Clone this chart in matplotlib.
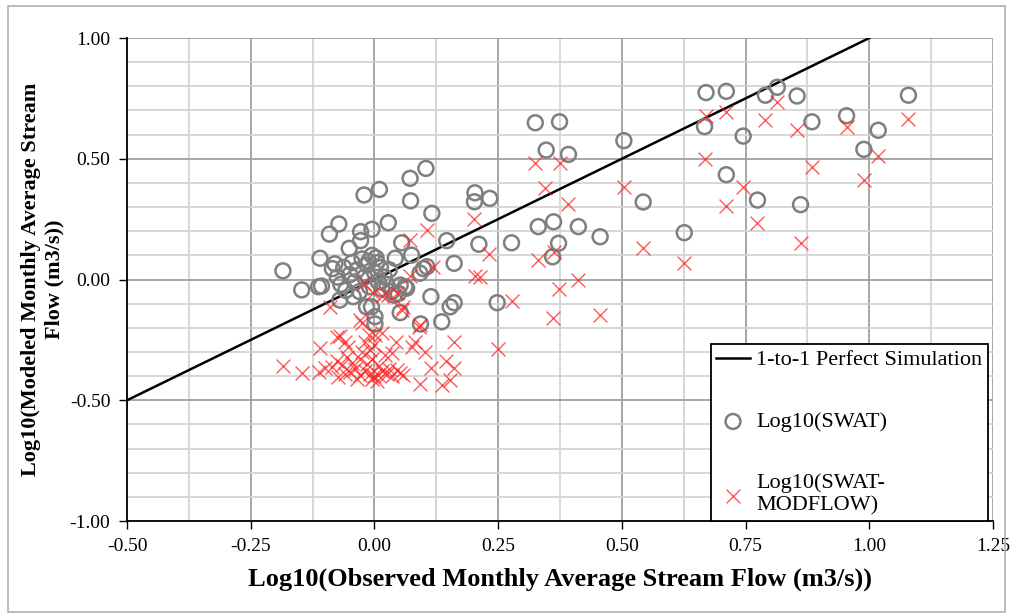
import matplotlib.pyplot as plt
import numpy as np
from matplotlib.patches import Rectangle

plt.rcParams["font.family"] = ["Liberation Serif", "DejaVu Serif"]

# Observed vs. SWAT monthly average stream flow (log10)
obs_swat = [
    0.670, 0.667, 0.711, 0.711, 0.745, 0.774, 0.790, 0.814, 0.854, 0.861,
    0.884, 0.954, 0.989, 1.018, 1.079, 0.626,
    0.325, 0.374, 0.347, 0.392, 0.504, 0.543, 0.331, 0.362, 0.412, 0.456,
    0.372, 0.360, 0.277, 0.248, 0.233, 0.211, 0.203, 0.202, 0.104, 0.116,
    0.146, 0.161, 0.114, 0.153, 0.161, 0.136, 0.099, 0.106,
    -0.185, -0.147, -0.110, -0.113, -0.107, -0.091, -0.072, -0.051, -0.021, 0.010,
    -0.028, -0.005, -0.028, 0.028, 0.072, 0.073, 0.055, 0.075, 0.042, 0.092,
    0.052, 0.062, 0.052, 0.093, 0.001, 0.001, -0.006, -0.016, -0.070, -0.043,
    -0.085, -0.080, -0.075, -0.068, -0.062, -0.058, -0.050, -0.045, -0.040, -0.035,
    -0.030, -0.025, -0.020, -0.015, -0.010, -0.005, 0.000, 0.005, 0.008, 0.012,
    0.015, 0.020, 0.025, 0.030, 0.035, -0.012, 0.003, 0.065, 0.040, 0.048,
]
swat = [
    0.774, 0.633, 0.779, 0.434, 0.594, 0.329, 0.763, 0.796, 0.760, 0.310,
    0.653, 0.678, 0.539, 0.618, 0.763, 0.194,
    0.649, 0.653, 0.536, 0.518, 0.575, 0.321, 0.219, 0.239, 0.219, 0.177,
    0.150, 0.094, 0.152, -0.096, 0.336, 0.146, 0.359, 0.322, 0.460, 0.274,
    0.161, 0.067, -0.071, -0.113, -0.096, -0.175, 0.045, 0.053,
    0.036, -0.043, 0.088, -0.030, -0.027, 0.188, 0.230, 0.129, 0.350, 0.373,
    0.198, 0.208, 0.161, 0.235, 0.419, 0.326, 0.152, 0.101, 0.088, 0.026,
    -0.023, -0.030, -0.137, -0.184, -0.184, -0.154, -0.113, -0.113, -0.085, -0.071,
    0.045, 0.065, 0.010, -0.020, 0.050, -0.045, 0.020, 0.070, -0.010, 0.040,
    -0.050, 0.085, 0.010, 0.060, -0.030, 0.100, 0.030, 0.070, -0.010, 0.050,
    -0.040, 0.010, -0.020, 0.040, -0.050, 0.075, 0.090, -0.036, -0.065, -0.058,
]

# Observed vs. SWAT-MODFLOW monthly average stream flow (log10)
obs_mf = [
    0.670, 0.667, 0.711, 0.711, 0.745, 0.774, 0.790, 0.814, 0.854, 0.861,
    0.884, 0.954, 0.989, 1.018, 1.079, 0.626,
    0.325, 0.374, 0.345, 0.392, 0.504, 0.543, 0.331, 0.362, 0.412, 0.456,
    0.372, 0.361, 0.277, 0.250, 0.232, 0.213, 0.203, 0.201, 0.106, 0.119,
    0.161, 0.092,
    -0.090, -0.022, -0.002, 0.015, 0.028, 0.045, 0.058, 0.072, 0.072, 0.091,
    -0.029, -0.026, -0.076, -0.070, -0.012, 0.001, 0.015,
    -0.185, -0.147, -0.110, -0.113, -0.100, -0.086, -0.059, -0.053, -0.076, -0.066,
    -0.073, 0.021, 0.035, 0.044, 0.075, 0.055, 0.102, 0.092, 0.114, 0.136,
    0.153, 0.145, 0.161, 0.082,
    0.000, -0.010, 0.008, 0.015, -0.005, 0.005, -0.020, -0.030, -0.040, -0.050,
    -0.045, -0.030, -0.015, -0.005, 0.010, 0.025, 0.035, 0.045, 0.052, 0.058,
    0.030, -0.025, -0.010, -0.060, -0.035, -0.055, -0.020, 0.000,
]
swat_mf = [
    0.678, 0.498, 0.694, 0.303, 0.382, 0.233, 0.662, 0.736, 0.618, 0.152,
    0.465, 0.633, 0.412, 0.513, 0.665, 0.070,
    0.481, 0.481, 0.378, 0.313, 0.384, 0.129, 0.081, 0.115, -0.002, -0.147,
    -0.041, -0.159, -0.088, -0.289, 0.106, 0.012, 0.016, 0.249, 0.205, 0.053,
    -0.258, -0.188,
    -0.113, -0.016, -0.057, -0.068, -0.064, -0.055, -0.115, 0.164, 0.015, -0.198,
    -0.168, -0.181, -0.237, -0.234, -0.230, -0.230, -0.223,
    -0.358, -0.386, -0.285, -0.382, -0.368, -0.361, -0.258, -0.278, -0.336, -0.354,
    -0.402, -0.313, -0.306, -0.258, -0.278, -0.126, -0.302, -0.434, -0.368, -0.437,
    -0.416, -0.337, -0.368, -0.258,
    -0.400, -0.390, -0.395, -0.380, -0.410, -0.420, -0.380, -0.395, -0.370, -0.385,
    -0.345, -0.330, -0.350, -0.330, -0.360, -0.390, -0.400, -0.375, -0.388, -0.395,
    -0.370, -0.300, -0.290, -0.390, -0.410, -0.320, -0.260, -0.270,
]

one_to_one = [-0.5, 1.0]

fig = plt.figure(figsize=(10.13, 6.16), dpi=100)
ax = fig.add_axes([0.1254, 0.1542, 0.8549, 0.7841])

ax.set_xlim(-0.5, 1.25)
ax.set_ylim(-1.0, 1.0)
ax.set_xticks(np.arange(-0.5, 1.26, 0.25))
ax.set_xticks(np.arange(-0.5, 1.26, 0.125), minor=True)
ax.set_yticks(np.arange(-1.0, 1.01, 0.5))
ax.set_yticks(np.arange(-1.0, 1.01, 0.1), minor=True)
ax.xaxis.set_major_formatter(plt.FormatStrFormatter("%.2f"))
ax.yaxis.set_major_formatter(plt.FormatStrFormatter("%.2f"))

ax.grid(which="minor", color="#d4d4d4", linewidth=1.3, zorder=0)
ax.grid(which="major", color="#a0a0a0", linewidth=1.3, zorder=0)
ax.set_axisbelow(True)

ax.tick_params(which="major", direction="out", length=6, width=1, color="black",
               labelsize=14, pad=6)
ax.tick_params(which="minor", length=0)
for side in ("top", "right"):
    ax.spines[side].set_visible(False)
for side in ("left", "bottom"):
    ax.spines[side].set_color("black")
    ax.spines[side].set_linewidth(1.3)

ax.plot(one_to_one, one_to_one, color="black", linewidth=1.8,
        label="1-to-1 Perfect Simulation", zorder=2)
ax.scatter(obs_swat, swat, s=115, facecolors="none", edgecolors="#7f7f7f",
           linewidths=1.8, label="Log10(SWAT)", zorder=3)
ax.scatter(obs_mf, swat_mf, s=100, marker="x", color="#ff2020", alpha=0.75,
           linewidths=1.0, label="Log10(SWAT-\nMODFLOW)", zorder=4)

ax.set_xlabel("Log10(Observed Monthly Average Stream Flow (m3/s))",
              fontsize=19, fontweight="bold", labelpad=9)
ax.set_ylabel("Log10(Modeled Monthly Average Stream\nFlow (m3/s))",
              fontsize=16, fontweight="bold", labelpad=4)

leg = ax.legend(loc="lower right", bbox_to_anchor=(0.9942, 0.0), fontsize=16,
                frameon=True, fancybox=False, framealpha=1, edgecolor="black",
                borderpad=0.25, labelspacing=1.86, handlelength=1.5,
                handletextpad=0.3, borderaxespad=0)
leg.get_frame().set_linewidth(1.3)

# thin grey frame around the whole figure
fig.patches.append(Rectangle((8 / 1013, 4 / 616), 997 / 1013, 606 / 616,
                             transform=fig.transFigure, fill=False,
                             edgecolor="#b0b0b0", linewidth=1.2))

fig.savefig("out.png", dpi=100)
